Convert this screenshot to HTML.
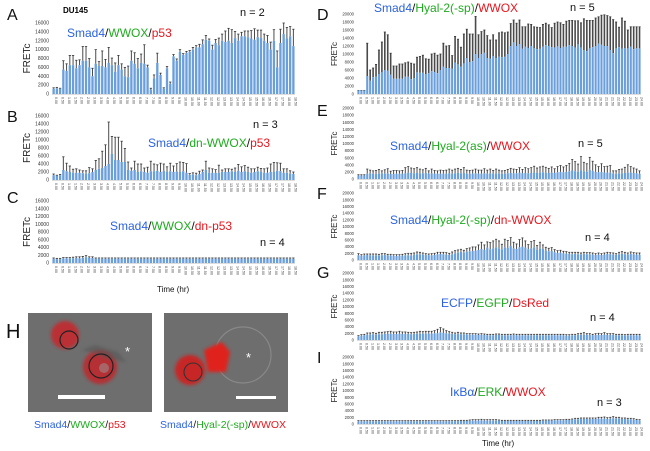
<!DOCTYPE html>
<html><head><meta charset="utf-8"><style>
html,body{margin:0;padding:0;background:#fff;}
svg{display:block;font-family:"Liberation Sans",Arial,sans-serif;}
.bl{fill:#2c62e0}.gr{fill:#1faa1f}.rd{fill:#e8161e}.bk{fill:#111}
</style></head><body>
<svg id="fig" width="650" height="451" viewBox="0 0 650 451" xmlns="http://www.w3.org/2000/svg">
<defs><filter id="soft" x="-20%" y="-20%" width="140%" height="140%"><feGaussianBlur stdDeviation="1.6"/></filter></defs>
<rect width="650" height="451" fill="#fff"/>
<g id="charts"></g>
<g font-size="16" fill="#111">
<text x="7" y="20">A</text>
<text x="7" y="122">B</text>
<text x="7" y="203">C</text>
<text x="6" y="338" font-size="20">H</text>
<text x="317" y="20">D</text>
<text x="317" y="116">E</text>
<text x="317" y="199">F</text>
<text x="317" y="278">G</text>
<text x="317" y="363">I</text>
</g>
<text x="63" y="13" font-size="8" font-weight="bold">DU145</text>
<g font-size="12">
<text x="67" y="37"><tspan class="bl">Smad4</tspan><tspan class="bk">/</tspan><tspan class="gr">WWOX</tspan><tspan class="bk">/</tspan><tspan class="rd">p53</tspan></text>
<text x="148" y="147"><tspan class="bl">Smad4</tspan><tspan class="bk">/</tspan><tspan class="gr">dn-WWOX</tspan><tspan class="bk">/</tspan><tspan class="rd">p53</tspan></text>
<text x="110" y="230"><tspan class="bl">Smad4</tspan><tspan class="bk">/</tspan><tspan class="gr">WWOX</tspan><tspan class="bk">/</tspan><tspan class="rd">dn-p53</tspan></text>
<text x="374" y="12"><tspan class="bl">Smad4</tspan><tspan class="bk">/</tspan><tspan class="gr">Hyal-2(-sp)</tspan><tspan class="bk">/</tspan><tspan class="rd">WWOX</tspan></text>
<text x="390" y="150"><tspan class="bl">Smad4</tspan><tspan class="bk">/</tspan><tspan class="gr">Hyal-2(as)</tspan><tspan class="bk">/</tspan><tspan class="rd">WWOX</tspan></text>
<text x="390" y="224"><tspan class="bl">Smad4</tspan><tspan class="bk">/</tspan><tspan class="gr">Hyal-2(-sp)</tspan><tspan class="bk">/</tspan><tspan class="rd">dn-WWOX</tspan></text>
<text x="441" y="307"><tspan class="bl">ECFP</tspan><tspan class="bk">/</tspan><tspan class="gr">EGFP</tspan><tspan class="bk">/</tspan><tspan class="rd">DsRed</tspan></text>
<text x="450" y="396"><tspan class="bl">IκBα</tspan><tspan class="bk">/</tspan><tspan class="gr">ERK</tspan><tspan class="bk">/</tspan><tspan class="rd">WWOX</tspan></text>
</g>
<g font-size="11" fill="#111">
<text x="240" y="16">n = 2</text>
<text x="253" y="128">n = 3</text>
<text x="260" y="246">n = 4</text>
<text x="570" y="11">n = 5</text>
<text x="578" y="147">n = 5</text>
<text x="585" y="241">n = 4</text>
<text x="590" y="321">n = 4</text>
<text x="597" y="406">n = 3</text>
</g>
<text x="157" y="292" font-size="8" fill="#111">Time (hr)</text>
<text x="482" y="446" font-size="8" fill="#111">Time (hr)</text>

<g>
<rect x="28" y="313" width="124" height="99" fill="#6e6e6e"/>
<g filter="url(#soft)">
<circle cx="65" cy="335" r="14" fill="#c8242a" opacity="0.85"/>
<circle cx="100" cy="367" r="17" fill="#c0252c" opacity="0.85"/>
<path d="M82 350 L95 345 L118 352 L126 362 L112 360 Z" fill="#555" opacity="0.6"/>
</g>
<circle cx="69" cy="340" r="9" fill="none" stroke="#222" stroke-width="1.2"/>
<circle cx="101" cy="366" r="12" fill="none" stroke="#222" stroke-width="1.2"/>
<circle cx="104" cy="368" r="5" fill="#999" opacity="0.5"/>
<text x="125" y="356" font-size="13" fill="#fff">*</text>
<rect x="58" y="395" width="47" height="4" fill="#fff"/>
</g>
<g>
<rect x="164" y="313" width="124" height="99" fill="#6e6e6e"/>
<circle cx="243" cy="355" r="28" fill="none" stroke="#888" stroke-width="1.2"/>
<g filter="url(#soft)">
<circle cx="190" cy="370" r="15" fill="#d0201c" opacity="0.9"/>
<path d="M204 350 L222 342 L230 352 L226 372 L208 372 Z" fill="#e0201a"/>
</g>
<circle cx="193" cy="372" r="9" fill="none" stroke="#333" stroke-width="1.1"/>
<text x="246" y="362" font-size="13" fill="#fff">*</text>
<rect x="236" y="396" width="40" height="3" fill="#fff"/>
</g>
<g font-size="10.5">
<text x="34" y="428"><tspan class="bl">Smad4</tspan><tspan class="bk">/</tspan><tspan class="gr">WWOX</tspan><tspan class="bk">/</tspan><tspan class="rd">p53</tspan></text>
<text x="160" y="428"><tspan class="bl">Smad4</tspan><tspan class="bk">/</tspan><tspan class="gr">Hyal-2(-sp)</tspan><tspan class="bk">/</tspan><tspan class="rd">WWOX</tspan></text>
</g>
</svg>
<script>
const leftTicks=["0.00","0.50","1.00","1.50","2.00","2.50","3.00","3.50","4.00","4.50","5.00","5.50","6.00","6.50","7.00","7.50","8.00","8.50","9.00","9.50","10.00","10.50","11.00","11.50","12.00","12.50","13.00","13.50","14.00","14.50","15.00","15.50","16.00","16.50","17.00","17.50","18.00","18.50"];
const rightTicks=["0.00","0.50","1.00","1.50","2.00","2.50","3.00","3.50","4.00","4.50","5.00","5.50","6.00","6.50","7.00","7.50","8.00","8.50","9.00","9.50","10.00","10.50","11.00","11.50","12.00","12.50","13.00","13.50","14.00","14.50","15.00","15.50","16.00","16.50","17.00","17.50","18.00","18.50","19.00","19.50","20.00","20.50","21.00","21.50","22.00","22.50","23.00","23.50","24.00"];
const leftYTicks=[0,2000,4000,6000,8000,10000,12000,14000,16000];
const rightYTicks=[0,2000,4000,6000,8000,10000,12000,14000,16000,18000,20000];
const aMeans=[1200,1300,1200,5500,5200,6500,6500,5800,6500,7500,7500,6000,4000,6800,6300,6300,6000,7000,6500,5000,6500,5500,4000,3800,7500,6800,5800,7000,6800,6000,1000,3500,7000,4300,1200,5800,2300,8500,7500,9500,8800,9300,9500,10000,10500,10500,11200,12200,12000,10000,11500,11000,12000,11700,12000,11500,12600,12000,13000,13000,12800,12500,12200,12800,12600,12000,11500,10000,12000,6000,11500,13500,12500,13000,10800];
const aErr=[200,200,100,2000,1600,2200,2200,1800,1200,3200,3200,2000,1800,3200,1000,3400,1800,3500,1600,2000,2200,1300,2000,2500,2200,2500,2200,2000,4300,500,300,800,2200,400,200,400,400,400,400,500,300,300,300,500,400,700,1000,1000,400,1000,800,1600,1500,2500,2800,3000,1500,1500,900,1200,1400,1800,2500,1600,1800,1500,1700,1700,2500,3700,3100,2500,2500,2200,3800];
const bMeans=[1200,1100,1200,2500,2200,2000,1800,1800,1800,1700,1600,1700,2000,2500,2800,3000,3500,4000,6500,5000,5000,4500,4500,2500,2300,2500,2000,2200,2000,1800,2200,2200,2300,2000,2300,2000,2200,2000,2100,2000,2200,1800,1300,1400,1200,1500,2000,2500,1800,1800,1800,1800,2000,2000,2000,2200,2000,2300,2000,2200,2000,1800,2000,2200,2000,1800,1800,2000,2000,2300,2200,1800,1800,1600,1500];
const bErr=[300,100,200,3300,2000,1500,900,1000,700,600,700,1400,800,2400,2500,4200,5300,10500,4400,5700,5700,5200,3400,2000,700,2200,2000,1800,1000,1400,2500,1800,1500,2200,1700,1300,2000,1500,2000,2500,2200,2300,300,400,500,700,500,2200,1200,1000,800,1900,500,800,800,500,1000,1600,1300,1400,1200,1000,800,1000,900,1000,1200,2000,2400,2000,2000,1000,1000,700,500];
const cMeans=[1100,1000,1000,1200,1200,1200,1200,1300,1200,1300,1500,1300,1300,1100,1100,1100,1100,1100,1100,1100,1100,1100,1100,1100,1100,1100,1100,1100,1100,1100,1100,1100,1100,1100,1100,1100,1100,1100,1100,1100,1100,1100,1100,1100,1100,1100,1100,1100,1100,1100,1100,1100,1100,1100,1100,1100,1100,1100,1100,1100,1100,1100,1100,1100,1100,1100,1100,1100,1100,1100,1100,1100,1100,1100,1100];
const cErr=[200,200,200,200,200,200,300,300,400,400,400,300,300,200,200,200,200,200,200,200,200,200,200,200,200,200,200,200,200,200,200,200,200,200,200,200,200,200,200,200,200,200,200,200,200,200,200,200,200,200,200,200,200,200,200,200,200,200,200,200,200,200,200,200,200,200,200,200,200,200,200,200,200,200,200];
const dMeans=[900,900,900,4500,3300,4200,4300,5000,5500,6000,5800,4800,3800,3800,3800,3800,4300,4300,3700,4000,5400,5300,5300,5000,5200,5700,5500,5200,6000,6800,6500,6500,6300,7800,7400,6800,7600,9000,8000,8200,10000,9000,10000,10300,9000,8800,9500,9000,9300,9200,9300,10000,12000,12900,12000,12500,11300,11800,11500,12000,11500,11200,11300,11800,12200,12000,11700,11600,11900,11500,11800,11800,12200,12000,11600,12400,11600,11000,10700,11400,11700,12000,12600,12300,12000,12000,11000,10200,11400,11700,11300,11500,11400,11800,11200,11500,11400];
const dErr=[0,0,0,8200,2700,2300,3100,6000,7500,9500,9000,5400,3200,3200,3700,3700,3500,3700,4000,3500,3800,4100,4400,3800,3500,4300,4700,4500,4000,5900,5500,5600,3300,6600,6300,4900,7400,7200,7000,6800,9400,5800,5600,5700,5600,4700,5300,4500,6000,6300,6000,5500,5600,5600,5700,6000,5500,5000,6000,5400,5300,5500,5300,5600,5500,5300,4900,6100,6100,6300,5600,6400,6200,6400,6700,5900,6200,7800,7700,7000,6700,7000,6700,7400,7800,7600,8300,8400,6600,5000,7700,6700,4600,5000,5600,5300,5400];
const eMeans=[1000,1000,1000,1500,1600,1500,1400,1500,1600,1500,1600,1400,1400,1500,1500,1500,1600,1800,1700,1600,1700,1600,1600,1700,1500,1600,1500,1500,1500,1500,1500,1600,1500,1600,1700,1600,1700,1500,1500,1500,1600,1500,1500,1600,1500,1600,1500,1600,1500,1500,1500,1600,1700,1600,1600,1800,1600,1700,1600,1700,1800,1700,1800,1900,1800,1700,1800,1700,1900,2000,1900,2000,2200,2400,2200,2000,2500,2200,2000,2600,2300,2000,1900,2000,1800,1800,1800,1500,1500,1600,1600,1700,1800,1800,1700,1600,1500];
const eErr=[200,200,200,1300,900,800,1000,1200,700,1100,1300,800,1000,900,800,900,1600,1700,1400,1300,1500,1200,1000,1300,800,1200,900,800,1000,900,1000,1200,1000,1200,1300,1100,1500,1000,900,1000,1200,1000,1000,1300,1000,1200,900,1200,1000,800,900,1100,1300,1200,1100,1400,1100,1500,1300,1500,1800,1400,1600,1700,1500,1300,1600,1200,1600,1800,1500,1800,2200,3100,2700,2200,3800,2500,2300,3500,2700,2000,1600,2300,1700,1800,2000,800,800,1100,1200,1600,2200,1700,1400,1200,800];
const fMeans=[1400,1300,1400,1500,1400,1300,1400,1300,1400,1500,1400,1300,1300,1200,1300,1300,1400,1400,1300,1500,1700,1700,1600,1500,1400,1400,1500,1700,1800,1700,1600,1500,1700,2000,2200,2400,2200,2500,2600,2700,2800,3000,3300,3000,3700,3200,3500,3800,3400,3200,3800,3600,4200,3500,3300,3800,4000,3700,3200,3500,3800,3000,3500,3300,2800,2600,2700,2300,2100,2200,2000,1900,1800,1700,1800,1700,1600,1800,1700,1700,1600,1500,1600,1500,1600,1800,1700,1600,1500,1700,1800,1700,1600,1800,1700,1600,1600];
const fErr=[500,300,400,300,400,500,400,400,500,400,300,400,300,400,300,400,500,600,700,600,700,600,500,400,400,500,500,600,500,600,600,500,700,800,800,800,700,900,1000,1200,1100,1500,2000,1500,1700,2000,2200,2400,2300,1500,2400,2200,2500,1800,1500,2300,2600,2000,1400,2000,2000,1300,1800,1200,1000,900,1000,800,700,700,600,600,500,600,500,600,500,500,500,500,500,400,500,400,500,500,500,500,400,600,700,600,500,600,500,500,500];
const gMeans=[1100,1300,1400,1600,1600,1700,1600,1700,1700,1800,1800,1900,1800,1800,1900,1800,1800,1800,1700,1800,1800,1900,1900,1900,1900,1900,2000,2000,2300,2100,2000,1900,1800,1700,1800,1700,1700,1600,1600,1600,1600,1500,1600,1500,1400,1400,1400,1500,1500,1400,1400,1400,1400,1500,1400,1400,1400,1400,1400,1400,1400,1400,1400,1400,1400,1400,1400,1400,1400,1400,1400,1300,1300,1400,1400,1500,1500,1600,1500,1500,1400,1500,1500,1500,1600,1500,1500,1500,1400,1400,1400,1300,1400,1400,1400,1400,1400];
const gErr=[200,300,300,500,500,500,400,600,600,600,700,700,600,600,700,600,600,500,500,500,600,700,600,700,700,700,800,1200,1400,1200,800,600,500,400,500,400,400,300,300,300,300,300,300,300,300,300,300,300,300,300,300,300,300,300,300,300,300,300,300,300,300,300,300,300,300,300,300,300,300,300,300,300,300,300,300,400,500,600,400,400,300,400,500,400,600,400,400,400,300,300,300,300,300,300,300,300,300];
const iMeans=[800,800,800,800,800,800,800,800,800,800,800,800,800,800,800,800,800,800,800,800,800,800,800,800,800,800,800,800,800,800,800,800,800,800,800,900,900,900,1000,1000,1000,1000,1100,1000,1000,1000,1000,1000,1000,900,900,900,900,900,900,900,900,900,900,900,900,900,900,1000,1000,1000,1000,1100,1100,1100,1100,1200,1200,1300,1400,1400,1500,1500,1500,1500,1500,1500,1600,1600,1600,1500,1600,1700,1600,1600,1500,1500,1400,1400,1300,1200,1100];
const iErr=[200,200,200,200,200,200,200,200,200,200,200,200,200,200,200,200,200,200,200,200,200,200,200,200,200,200,200,200,200,200,200,200,200,200,200,200,200,200,200,300,300,300,300,300,300,300,300,300,200,200,200,200,200,200,200,200,200,200,200,200,200,200,200,200,200,200,200,200,200,200,200,200,200,200,300,300,300,300,300,300,300,300,400,400,500,400,400,500,400,400,300,300,300,300,300,200,200];

const NS="http://www.w3.org/2000/svg";
const root=document.getElementById('charts');
function mk(tag,attrs,parent){const e=document.createElementNS(NS,tag);for(const k in attrs)e.setAttribute(k,attrs[k]);parent.appendChild(e);return e;}

function chart(key,x0,x1,yTop,yBot,maxV,yTicks,xTicks,means,errs,errW,ySize){
  const g=mk('g',{},root);
  
  
  const n=means.length;
  const step=(x1-x0)/n;
  const xs=i=>x0+i*step+step/2;
  const ys=v=>yBot-(v/maxV)*(yBot-yTop);
  const bw=step*0.72;
  yTicks.forEach(t=>{
    const tx=mk('text',{x:x0-3,y:ys(t)+1.6,'font-size':ySize,'text-anchor':'end',fill:'#333'},g);
    
    
    tx.textContent=t;
  });
  const yl=mk('text',{x:0,y:0,'font-size':key<'d'?10:8,'text-anchor':'middle',fill:'#222',transform:`translate(${x0-(key<'d'?22:20)},${(yTop+yBot)/2}) rotate(-90)`},g);
  
  
  yl.textContent='FRETc';
  means.forEach((v,i)=>{
    const top=ys(v+errs[i]);
    const el=mk('line',{x1:xs(i),x2:xs(i),y1:ys(v),y2:top,stroke:'#4a4a4a','stroke-width':errW},g);
    
    
    const cap=mk('line',{x1:xs(i)-bw/2,x2:xs(i)+bw/2,y1:top,y2:top,stroke:'#3a3a3a','stroke-width':0.8},g);
    
    
    const r=mk('rect',{x:xs(i)-bw/2,y:ys(v),width:bw,height:yBot-ys(v),fill:'#6a9fdc'},g);
    
    
  });
  const ax=mk('line',{x1:x0,x2:x1,y1:yBot+0.5,y2:yBot+0.5,stroke:'#bbb','stroke-width':0.6},g);
  
  
  xTicks.forEach((t,j)=>{
    const i=j*2;if(i>=n)return;
    const tx=mk('text',{'font-size':3.6,fill:'#444',transform:`translate(${xs(i)+1.2},${yBot+3}) rotate(90)`},g);
    
    
    tx.textContent=t;
  });
}
chart('a',52,295,23,94,16000,leftYTicks,leftTicks,aMeans,aErr,1,5);
chart('b',52,295,116,180,16000,leftYTicks,leftTicks,bMeans,bErr,1,5);
chart('c',52,295,201,263,16000,leftYTicks,leftTicks,cMeans,cErr,1,5);
chart('d',357,641,14,94,20000,rightYTicks,rightTicks,dMeans,dErr,1.6,4.2);
chart('e',357,641,108,179,20000,rightYTicks,rightTicks,eMeans,eErr,1,4.2);
chart('f',357,641,193,260,20000,rightYTicks,rightTicks,fMeans,fErr,1,4.2);
chart('g',357,641,273,340,20000,rightYTicks,rightTicks,gMeans,gErr,1,4.2);
chart('i',357,641,357,424,20000,rightYTicks,rightTicks,iMeans,iErr,1,4.2);
</script>
</body></html>
